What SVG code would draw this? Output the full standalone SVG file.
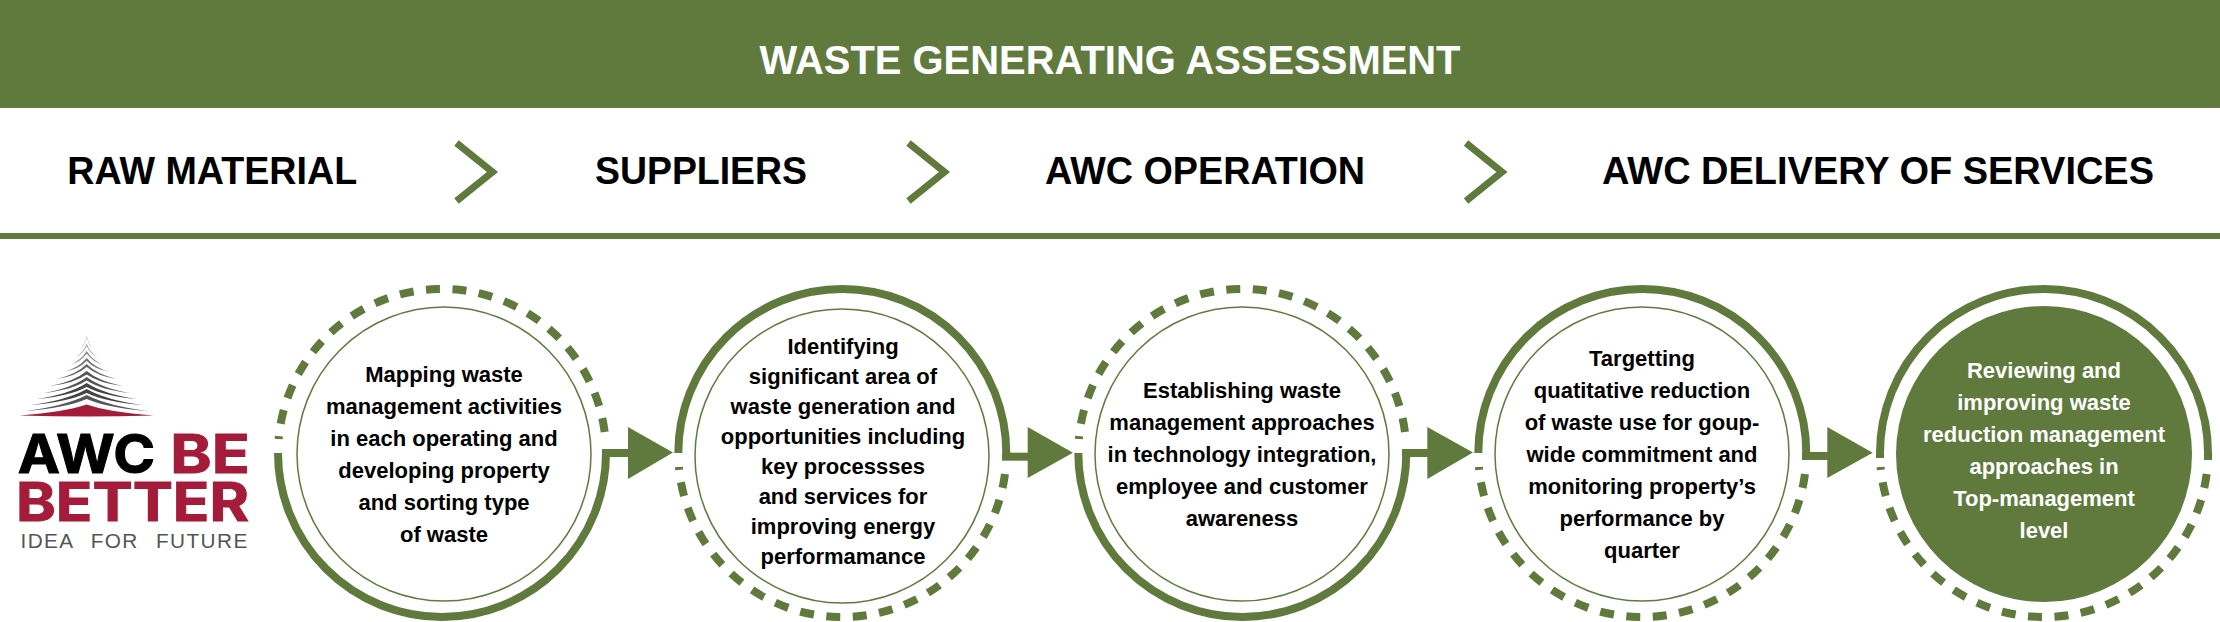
<svg xmlns="http://www.w3.org/2000/svg" width="2220" height="622" viewBox="0 0 2220 622">
<style>
text{font-family:"Liberation Sans",Arial,sans-serif;font-weight:700;text-anchor:middle}
.body{font-size:22px;fill:#000}
.inv{font-size:22px;fill:#fff}
.head{font-size:39.5px;fill:#000}
.solid{fill:none;stroke:#607a3e;stroke-width:8}
.dash{fill:none;stroke:#607a3e;stroke-width:8;stroke-dasharray:14 12.5}
.inner{fill:#fff;stroke:#607a3e;stroke-width:1.5}
.green{fill:#607a3e}
.stub{stroke:#607a3e;stroke-width:8;fill:none}
.chev{fill:none;stroke:#607a3e;stroke-width:7;stroke-linejoin:miter}
.logo-big{font-family:Inter,"Liberation Sans",sans-serif;font-size:53px;stroke-width:1}
</style>
<defs>
<path id="top-dash" class="dash" d="M162.65 -21A164 164 0 0 0 -163.4 -14"/>
<path id="bottom-dash" class="dash" d="M162.65 21A164 164 0 0 1 -163.4 14"/>
<path id="top-solid" class="solid" d="M-164 0A164 164 0 0 1 164 0"/>
<path id="bottom-solid" class="solid" d="M-164 0A164 164 0 0 0 164 0"/>
</defs>
<rect width="2220" height="622" fill="#fff"/>
<g id="banner">
<rect class="green" width="2220" height="108"/>
<text x="1110" y="74" font-size="40" fill="#fff" textLength="701" lengthAdjust="spacingAndGlyphs">WASTE GENERATING ASSESSMENT</text>
</g>
<g id="stages">
<text class="head" x="212.200" y="184" textLength="290" lengthAdjust="spacingAndGlyphs">RAW MATERIAL</text>
<text class="head" x="701" y="184" textLength="212" lengthAdjust="spacingAndGlyphs">SUPPLIERS</text>
<text class="head" x="1205" y="184" textLength="320" lengthAdjust="spacingAndGlyphs">AWC OPERATION</text>
<text class="head" x="1878" y="184" textLength="552" lengthAdjust="spacingAndGlyphs">AWC DELIVERY OF SERVICES</text>
<path class="chev" d="M456.500 143L492.500 172L456.500 201"/>
<path class="chev" d="M908.500 143L944.500 172L908.500 201"/>
<path class="chev" d="M1466 143L1502 172L1466 201"/>
<rect class="green" y="233" width="2220" height="6"/>
</g>
<g id="logo">
<path fill="#aaa" d="M79.700 350Q84.200 345.800 86.700 336Q89.200 345.800 93.700 350Q89.200 346.500 86.700 337.500Q84.200 346.500 79.700 350Z"/>
<path fill="#999" d="M74.700 358Q82.500 353.800 86.700 344Q90.900 353.800 98.700 358Q90.900 354.800 86.700 346Q82.500 354.800 74.700 358Z"/>
<path fill="#888" d="M69.700 365Q80.700 360.800 86.700 351Q92.700 360.800 103.700 365Q92.700 362 86.700 353.500Q80.700 362 69.700 365Z"/>
<path fill="#777" d="M63.700 372Q78.700 367.800 86.700 358Q94.700 367.800 109.700 372Q94.700 369.300 86.700 361Q78.700 369.300 63.700 372Z"/>
<path fill="#666" d="M56.700 379Q76.200 374.500 86.700 364Q97.200 374.500 116.700 379Q97.200 376 86.700 367Q76.200 376 56.700 379Z"/>
<path fill="#555" d="M50.700 386Q74.100 381.500 86.700 371Q99.300 381.500 122.700 386Q99.300 383.200 86.700 374.500Q74.100 383.200 50.700 386Z"/>
<path fill="#555" d="M43.700 393Q71.700 388.200 86.700 377Q101.700 388.200 129.700 393Q101.700 390 86.700 380.500Q71.700 390 43.700 393Z"/>
<path fill="#444" d="M36.700 399Q69.200 394.200 86.700 383Q104.200 394.200 136.700 399Q104.200 396.200 86.700 387Q69.200 396.200 36.700 399Z"/>
<path fill="#444" d="M30.700 405Q67.100 400.200 86.700 389Q106.300 400.200 142.700 405Q106.300 402.200 86.700 393Q67.100 402.200 30.700 405Z"/>
<path fill="#555" d="M24.700 411Q65 406.200 86.700 395Q108.400 406.200 148.700 411Q108.400 408.200 86.700 399Q65 408.200 24.700 411Z"/>
<path fill="#a51c3a" d="M19.500 415.500Q65 412 86.700 404.500Q108 412 153.500 415.500Q86.700 417.500 19.500 415.500Z"/>
<text class="logo-big" x="86.500" y="472.700" fill="#000" stroke="#000" textLength="137.500" lengthAdjust="spacingAndGlyphs">AWC</text>
<text class="logo-big" x="210" y="472.700" fill="#a51c3a" stroke="#a51c3a" textLength="79.500" lengthAdjust="spacingAndGlyphs">BE</text>
<text class="logo-big" x="132.500" y="520.700" fill="#a51c3a" stroke="#a51c3a" textLength="233" lengthAdjust="spacingAndGlyphs">BETTER</text>
<text x="20.500" y="548" font-size="20.800" fill="#555" style="font-weight:400;text-anchor:start;letter-spacing:1.4px;word-spacing:10px">IDEA FOR FUTURE</text>
</g>
<g id="node-1">
<circle class="inner" cx="444" cy="454" r="147"/>
<use href="#top-dash" x="442" y="453"/><use href="#bottom-solid" x="442" y="453"/>
<text class="body"><tspan x="444" y="381.700">Mapping waste</tspan><tspan x="444" y="413.700">management activities</tspan><tspan x="444" y="445.700">in each operating and</tspan><tspan x="444" y="477.700">developing property</tspan><tspan x="444" y="509.700">and sorting type</tspan><tspan x="444" y="541.700">of waste</tspan></text>
</g>
<g id="node-2">
<circle class="inner" cx="842" cy="456" r="147"/>
<use href="#top-solid" x="842.300" y="453"/><use href="#bottom-dash" x="842.300" y="453"/>
<text class="body"><tspan x="843" y="354">Identifying</tspan><tspan x="843" y="384">significant area of</tspan><tspan x="843" y="414">waste generation and</tspan><tspan x="843" y="444">opportunities including</tspan><tspan x="843" y="474">key processses</tspan><tspan x="843" y="504">and services for</tspan><tspan x="843" y="534">improving energy</tspan><tspan x="843" y="564">performamance</tspan></text>
</g>
<g id="node-3">
<circle class="inner" cx="1242" cy="454" r="147"/>
<use href="#top-dash" x="1242.300" y="453"/><use href="#bottom-solid" x="1242.300" y="453"/>
<text class="body"><tspan x="1242" y="398.300">Establishing waste</tspan><tspan x="1242" y="430.300">management approaches</tspan><tspan x="1242" y="462.300">in technology integration,</tspan><tspan x="1242" y="494.300">employee and customer</tspan><tspan x="1242" y="526.300">awareness</tspan></text>
</g>
<g id="node-4">
<circle class="inner" cx="1642" cy="454" r="147"/>
<use href="#top-solid" x="1642.300" y="453"/><use href="#bottom-dash" x="1642.300" y="453"/>
<text class="body"><tspan x="1642" y="366.300">Targetting</tspan><tspan x="1642" y="398.300">quatitative reduction</tspan><tspan x="1642" y="430.300">of waste use for goup-</tspan><tspan x="1642" y="462.300">wide commitment and</tspan><tspan x="1642" y="494.300">monitoring property’s</tspan><tspan x="1642" y="526.300">performance by</tspan><tspan x="1642" y="558.300">quarter</tspan></text>
</g>
<g id="node-5">
<circle class="green" cx="2044" cy="454" r="148"/>
<use href="#top-solid" x="2044" y="453"/><use href="#bottom-dash" x="2044" y="453"/>
<path class="solid" d="M1880 453V458M2208 453V460"/>
<text class="inv"><tspan x="2044" y="377.700">Reviewing and</tspan><tspan x="2044" y="409.700">improving waste</tspan><tspan x="2044" y="441.700">reduction management</tspan><tspan x="2044" y="473.700">approaches in</tspan><tspan x="2044" y="505.700">Top-management</tspan><tspan x="2044" y="537.700">level</tspan></text>
</g>
<g id="connectors">
<path class="stub" d="M602 453H630"/><path class="green" d="M628 427L673 452.500L628 479Z"/>
<path class="stub" d="M1002 456.700H1030"/><path class="solid" d="M1006.300 453V457"/><path class="green" d="M1027.700 427L1073 452.700L1027.700 478Z"/>
<path class="stub" d="M1402 453H1430"/><path class="green" d="M1427.300 427L1473 452.500L1427.300 479Z"/>
<path class="stub" d="M1802 456H1830"/><path class="solid" d="M1806.300 453V457"/><path class="green" d="M1827.300 427L1872.700 452.700L1827.300 478Z"/>
</g>
</svg>
